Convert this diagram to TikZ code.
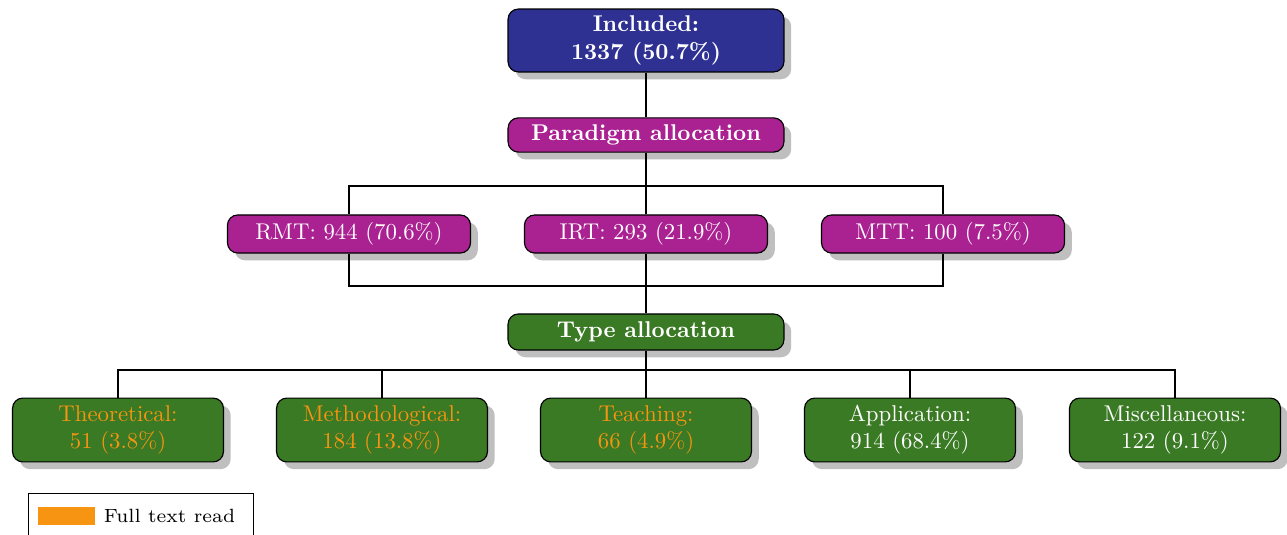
\documentclass[tikz,border=0pt]{standalone}
\usepackage{tikz}
\usetikzlibrary{positioning,shadows}
\definecolor{inclblue}{RGB}{46,49,146}
\definecolor{parapurple}{RGB}{170,33,145}
\definecolor{typegreen}{RGB}{58,122,36}
\definecolor{readorange}{RGB}{247,148,17}
\tikzset{box/.style={draw=black,line width=0.5pt,rounded corners=4.5pt,align=center,text=white,inner sep=1pt,
	drop shadow={shadow xshift=3.2pt,shadow yshift=-3.2pt,fill=black!25,opacity=1}}}
\tikzset{inclbox/.style={box,fill=inclblue,minimum width=121pt,minimum height=27.6pt,font=\bfseries}}
\tikzset{parabox/.style={box,fill=parapurple,minimum width=121pt,minimum height=15pt,font=\bfseries}}
\tikzset{subbox/.style={box,fill=parapurple,minimum width=106.6pt,minimum height=16.7pt}}
\tikzset{typebox/.style={box,fill=typegreen,minimum width=121pt,minimum height=15.8pt,font=\bfseries}}
\tikzset{leafbox/.style={box,fill=typegreen,minimum width=92.5pt,minimum height=28pt}}
\tikzset{readleaf/.style={leafbox,text=readorange}}
\tikzset{conn/.style={line width=0.9pt}}

\begin{document}
\begin{tikzpicture}[x=0.4386pt,y=-0.4386pt]
	\useasboundingbox (0,0) rectangle (1287,535);

	%% Counts
	\node[inclbox] (incl) at (646,40.5) {Included:\\1337 (50.7\%)};
	\node[parabox] (para) at (646,135) {Paradigm allocation};
	\node[subbox] (rmt) at (349,234) {RMT: 944 (70.6\%)};
	\node[subbox] (irt) at (646,234) {IRT: 293 (21.9\%)};
	\node[subbox] (mtt) at (943,234) {MTT: 100 (7.5\%)};
	\node[typebox] (type) at (646,332) {Type allocation};
	\node[readleaf] (theo) at (118,430) {Theoretical:\\51 (3.8\%)};
	\node[readleaf] (meth) at (382,430) {Methodological:\\184 (13.8\%)};
	\node[readleaf] (teach) at (646,430) {Teaching:\\66 (4.9\%)};
	\node[leafbox] (appl) at (910,430) {Application:\\914 (68.4\%)};
	\node[leafbox] (misc) at (1175,430) {Miscellaneous:\\122 (9.1\%)};

	%% Junctions
	\coordinate (pj) at (646,186);
	\coordinate (rj) at (646,286);
	\coordinate (tj) at (646,370);

	%% Connectors
	\draw[conn] (incl.south) -- (para.north);
	\draw[conn] (para.south) -- (pj);
	\draw[conn] (pj) -| (rmt.north);
	\draw[conn] (pj) -| (mtt.north);
	\draw[conn] (pj) -- (irt.north);
	\draw[conn] (rmt.south) |- (rj);
	\draw[conn] (mtt.south) |- (rj);
	\draw[conn] (irt.south) -- (type.north);
	\draw[conn] (type.south) -- (tj);
	\foreach \leaf in {theo,meth,teach,appl,misc}
		\draw[conn] (tj) -| (\leaf.north);

	%% Legend
	\node[draw=black,line width=0.5pt,minimum width=99pt,minimum height=22pt] (legend) at (141,519) {};
	\node[fill=readorange,minimum width=25pt,minimum height=7.9pt,inner sep=0pt] (fullkey) at (66.5,516) {};
	\node[right=3.5pt of fullkey,inner sep=0pt,font=\scriptsize,scale=1.2,transform shape] (fulltxt) {Full text read};

\end{tikzpicture}
\end{document}
